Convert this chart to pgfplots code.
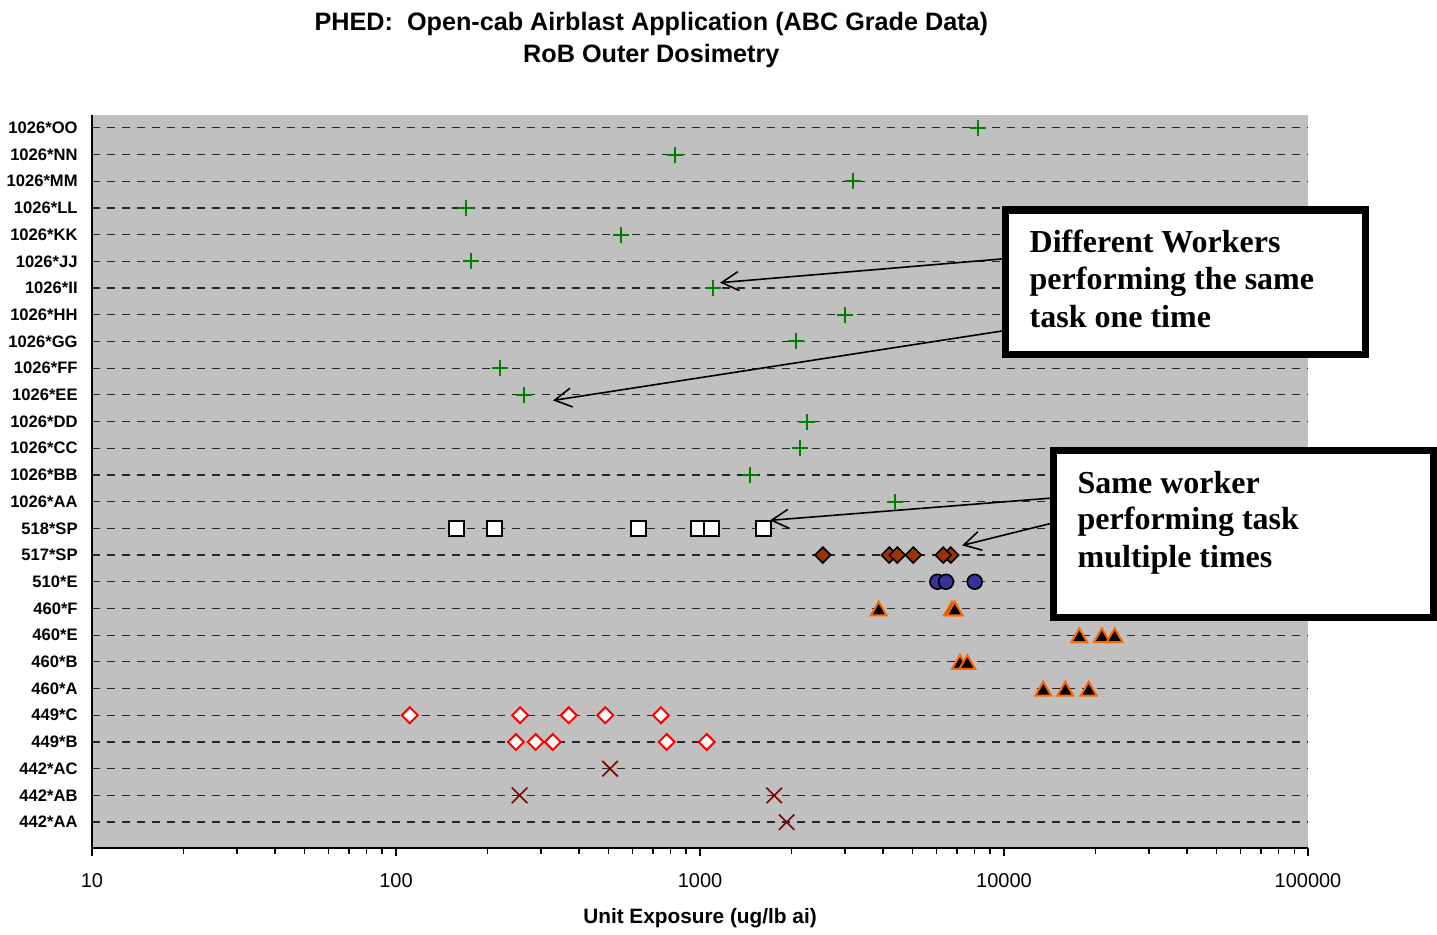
\documentclass[border=0pt]{standalone}
\usepackage{pgfplots}
\pgfplotsset{compat=1.18}
\usetikzlibrary{arrows.meta}
\usepackage{fontspec}
\setmainfont{Liberation Sans}
\newfontfamily\notefont{Liberation Serif}

\definecolor{plotbg}{HTML}{C0C0C0}
\definecolor{plusgreen}{HTML}{008000}
\definecolor{rust}{HTML}{993300}
\definecolor{navy}{HTML}{333399}
\definecolor{orng}{HTML}{FF6600}
\definecolor{darkred}{HTML}{800000}

\begin{document}
\begin{tikzpicture}
\begin{axis}[
    name=ax,
    scale only axis,
    width=608pt, height=366.5pt,
    xmode=log,
    xmin=10, xmax=100000,
    ymin=0.03, ymax=27.48,
    axis x line*=bottom, axis y line*=left,
    axis line style={line width=1pt, black},
    axis background/.style={fill=plotbg},
    clip=false,
    xtick={10,100,1000,10000,100000},
    xticklabels={10,100,1000,10000,100000},
    minor xtick={20,30,40,50,60,70,80,90,200,300,400,500,600,700,800,900,
                 2000,3000,4000,5000,6000,7000,8000,9000,
                 20000,30000,40000,50000,60000,70000,80000,90000},
    tick align=outside,
    major tick length=4pt, minor tick length=3pt,
    xtick style={black, line width=0.6pt},
    ytick={1,...,27},
    yticklabels={442*AA,442*AB,442*AC,449*B,449*C,460*A,460*B,460*E,460*F,
                 510*E,517*SP,518*SP,1026*AA,1026*BB,1026*CC,1026*DD,1026*EE,
                 1026*FF,1026*GG,1026*HH,1026*II,1026*JJ,1026*KK,1026*LL,
                 1026*MM,1026*NN,1026*OO},
    ytick style={draw=none},
    ymajorgrids,
    major grid style={black!85, line width=0.6pt, dash pattern=on 4pt off 3.5pt},
    yticklabel style={font=\bfseries\fontsize{8.3}{10}\selectfont, inner xsep=0pt, xshift=-3pt},
    xticklabel style={font=\fontsize{10}{12}\selectfont, yshift=-5pt},
    xlabel={Unit Exposure (ug/lb ai)},
    xlabel style={font=\bfseries\fontsize{10.4}{12}\selectfont, at={(axis description cs:0.5,0)}, anchor=center, yshift=-35pt},
    title={PHED:\ \ Open-cab Airblast Application (ABC Grade Data)\\RoB Outer Dosimetry},
    title style={font=\bfseries\fontsize{12.6}{16}\selectfont, align=center, at={(axis description cs:0.46,1)}, anchor=center, yshift=31.5pt},
]

% 1026 series, one time each
\addplot[only marks, mark=+, mark size=4pt, plusgreen, line width=1pt] table {
x y
4380 13
1460 14
2133 15
2250 16
264 17
220 18
2070 19
2999 20
1104 21
177 22
550 23
170 24
3190 25
828 26
8210 27
};

% 518*SP
\addplot[only marks, mark=square*, mark size=3.7pt,
  mark options={fill=white, draw=black, line width=1pt}] table {
x y
158 12
211 12
629 12
987 12
1092 12
1616 12
};

% 517*SP
\addplot[only marks, mark=square*, mark size=2.8pt,
  mark options={rotate=45, fill=rust, draw=black, line width=0.8pt}] table {
x y
2534 11
4194 11
4457 11
5032 11
6678 11
6312 11
};

% 510*E
\addplot[only marks, mark=*, mark size=3.7pt,
  mark options={fill=navy, draw=black, line width=0.8pt}] table {
x y
6036 10
6447 10
8011 10
};

% 460 series
\addplot[only marks, mark=triangle*, mark size=4.6pt,
  mark options={fill=black, draw=orng, line width=1pt, yshift=-1.2pt}] table {
x y
3872 9
6745 9
6884 9
17690 8
20990 8
23120 8
7166 7
7573 7
13470 6
15910 6
18990 6
};

% 449 series
\addplot[only marks, mark=square*, mark size=2.8pt,
  mark options={rotate=45, fill=white, draw=red, line width=1pt}] table {
x y
111 5
256 5
370 5
488 5
744 5
248 4
288 4
328 4
777 4
1052 4
};

% 442 series
\addplot[only marks, mark=x, mark size=5.5pt, darkred, line width=0.8pt] table {
x y
506 3
255 2
1755 2
1928 1
};

% call-outs
\draw[line width=0.8pt, -{Straight Barb[length=8.5pt, width=9.5pt]}]
  (axis cs:10099,22.10) -- (axis cs:1164,21.20);
\draw[line width=0.8pt, -{Straight Barb[length=8.5pt, width=9.5pt]}]
  (axis cs:10099,19.41) -- (axis cs:328.4,16.79);
\draw[line width=0.8pt, -{Straight Barb[length=8.5pt, width=9.5pt]}]
  (axis cs:14560,13.14) -- (axis cs:1699,12.30);
\draw[line width=0.8pt, -{Straight Barb[length=8.5pt, width=9.5pt]}]
  (axis cs:14560,12.21) -- (axis cs:7278,11.36);

\draw[line width=3.6pt, fill=white] (axis cs:10099,23.921) rectangle (axis cs:154800,18.519);
\draw[line width=3.6pt, fill=white] (axis cs:14560,14.905) rectangle (axis cs:258500,8.669);

\begin{scope}[every node/.style={anchor=base west, inner sep=0pt, font=\notefont\bfseries\fontsize{16}{18}\selectfont}]
\node at (axis cs:12110,22.312) {Different Workers};
\node at (axis cs:12110,20.928) {performing the same};
\node at (axis cs:12110,19.529) {task one time};
\node at (axis cs:17420,13.319) {Same worker};
\node at (axis cs:17420,11.949) {performing task};
\node at (axis cs:17420,10.550) {multiple times};
\end{scope}
\end{axis}
\path ([shift={(-46pt,-40pt)}]ax.south west) rectangle ([shift={(64.5pt,57.5pt)}]ax.north east);
\end{tikzpicture}
\end{document}
